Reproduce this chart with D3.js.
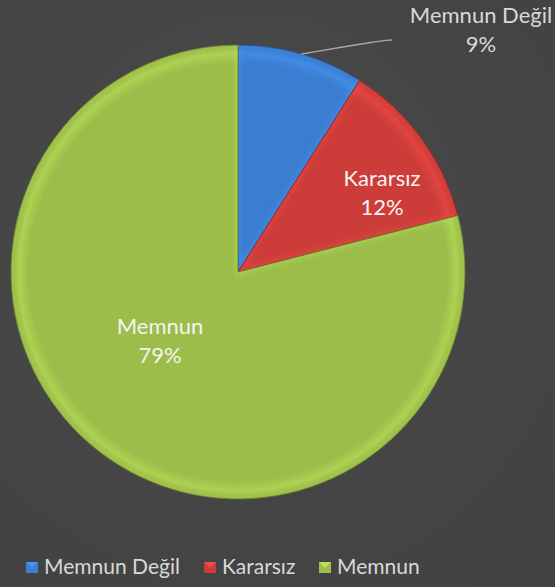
<!DOCTYPE html>
<html>
<head>
<meta charset="utf-8">
<script src="https://cdn.jsdelivr.net/npm/d3@7"></script>
<style>
  html, body { margin: 0; padding: 0; background: #464646; }
  svg { display: block; font-family: Lato, "Open Sans", sans-serif; }
</style>
</head>
<body>
<div id="viz"></div>
<script>
const categories = ["Memnun Değil", "Kararsız", "Memnun"];
const values = [9, 12, 79];
const colors = ["#3b7dd0", "#cc3d3a", "#9cbd4a"];

const width = 555;
const height = 587;
const cx = 238, cy = 272, radius = 227;
// label anchor points (layout only), relative to the pie centre
const labelPos = [[243, -249], [144, -86], [-78, 62]];

const svg = d3.select("#viz")
  .append("svg")
  .attr("width", width)
  .attr("height", height);

const defs = svg.append("defs");

// background
const bg = defs.append("radialGradient").attr("id", "bg")
  .attr("cx", "45%").attr("cy", "40%").attr("r", "75%");
bg.append("stop").attr("offset", "0%").attr("stop-color", "#4a4a4a");
bg.append("stop").attr("offset", "100%").attr("stop-color", "#424242");
svg.append("rect").attr("width", width).attr("height", height).attr("fill", "url(#bg)");

// soft blur used for the bevel highlight
defs.append("filter").attr("id", "soft")
  .append("feGaussianBlur").attr("stdDeviation", 2.2);

// slice gradients (centre of the pie is the group origin)
colors.forEach((c, i) => {
  const g = defs.append("radialGradient").attr("id", "grad" + i)
    .attr("gradientUnits", "userSpaceOnUse")
    .attr("cx", 0).attr("cy", 0).attr("r", radius);
  g.append("stop").attr("offset", "0%").attr("stop-color", c);
  g.append("stop").attr("offset", "92%").attr("stop-color", c);
  g.append("stop").attr("offset", "96.5%").attr("stop-color", d3.color(c).brighter(0.3));
  g.append("stop").attr("offset", "100%").attr("stop-color", d3.color(c).darker(0.3));
});

const pie = d3.pie().sort(null).value(d => d);
const arcs = pie(values);
const arc = d3.arc().innerRadius(0).outerRadius(radius);

const g = svg.append("g").attr("transform", `translate(${cx},${cy})`);

arcs.forEach((d, i) => {
  defs.append("clipPath").attr("id", "clip" + i)
    .append("path").attr("d", arc(d));
});

const slices = g.selectAll("g.slice")
  .data(arcs)
  .enter()
  .append("g")
  .attr("class", "slice");

slices.append("path")
  .attr("d", arc)
  .attr("fill", (d, i) => `url(#grad${i})`);

// inner bevel highlight along the straight edges
slices.append("path")
  .attr("d", arc)
  .attr("clip-path", (d, i) => `url(#clip${i})`)
  .attr("fill", "none")
  .attr("stroke", (d, i) => d3.color(colors[i]).brighter(0.5))
  .attr("stroke-opacity", 0.4)
  .attr("stroke-width", 7)
  .attr("filter", "url(#soft)");

slices.append("path")
  .attr("d", arc)
  .attr("fill", "none")
  .attr("stroke", (d, i) => d3.color(colors[i]).darker(1.2))
  .attr("stroke-width", 0.8);

// labels
const labels = g.selectAll("text.lbl")
  .data(arcs)
  .enter()
  .append("text")
  .attr("class", "lbl")
  .attr("text-anchor", "middle")
  .attr("font-size", 22)
  .attr("fill", (d, i) => i === 0 ? "#d9d9d9" : "#f4f4f4")
  .attr("transform", (d, i) => `translate(${labelPos[i][0]},${labelPos[i][1]})`);

labels.append("tspan").attr("x", 0).attr("y", 0).text((d, i) => categories[i]);
labels.append("tspan").attr("x", 0).attr("y", 29).text((d, i) => d.data + "%");

// leader line for first slice
const mid = (arcs[0].startAngle + arcs[0].endAngle) / 2;
const p0 = [Math.sin(mid) * radius, -Math.cos(mid) * radius];
g.append("path")
  .attr("d", d3.line().curve(d3.curveBasis)([p0, [378 - cx, 41 - cy], [392 - cx, 40 - cy]]))
  .attr("fill", "none")
  .attr("stroke", "#a8a8a8")
  .attr("stroke-width", 1.3);

// legend
const legendX = d3.scaleOrdinal().domain(categories).range([26, 204, 319]);
const legend = svg.selectAll("g.legend")
  .data(categories)
  .enter()
  .append("g")
  .attr("class", "legend")
  .attr("transform", d => `translate(${legendX(d)},574)`);

legend.append("rect")
  .attr("x", 0).attr("y", -12)
  .attr("width", 12).attr("height", 11)
  .attr("fill", (d, i) => colors[i]);

legend.append("path")
  .attr("d", "M0,-12 L12,-12 L6,-6 Z")
  .attr("fill", (d, i) => d3.color(colors[i]).brighter(0.5));

legend.append("text")
  .attr("x", 18).attr("y", 0)
  .attr("font-size", 21)
  .attr("fill", "#d9d9d9")
  .text(d => d);
</script>
</body>
</html>
